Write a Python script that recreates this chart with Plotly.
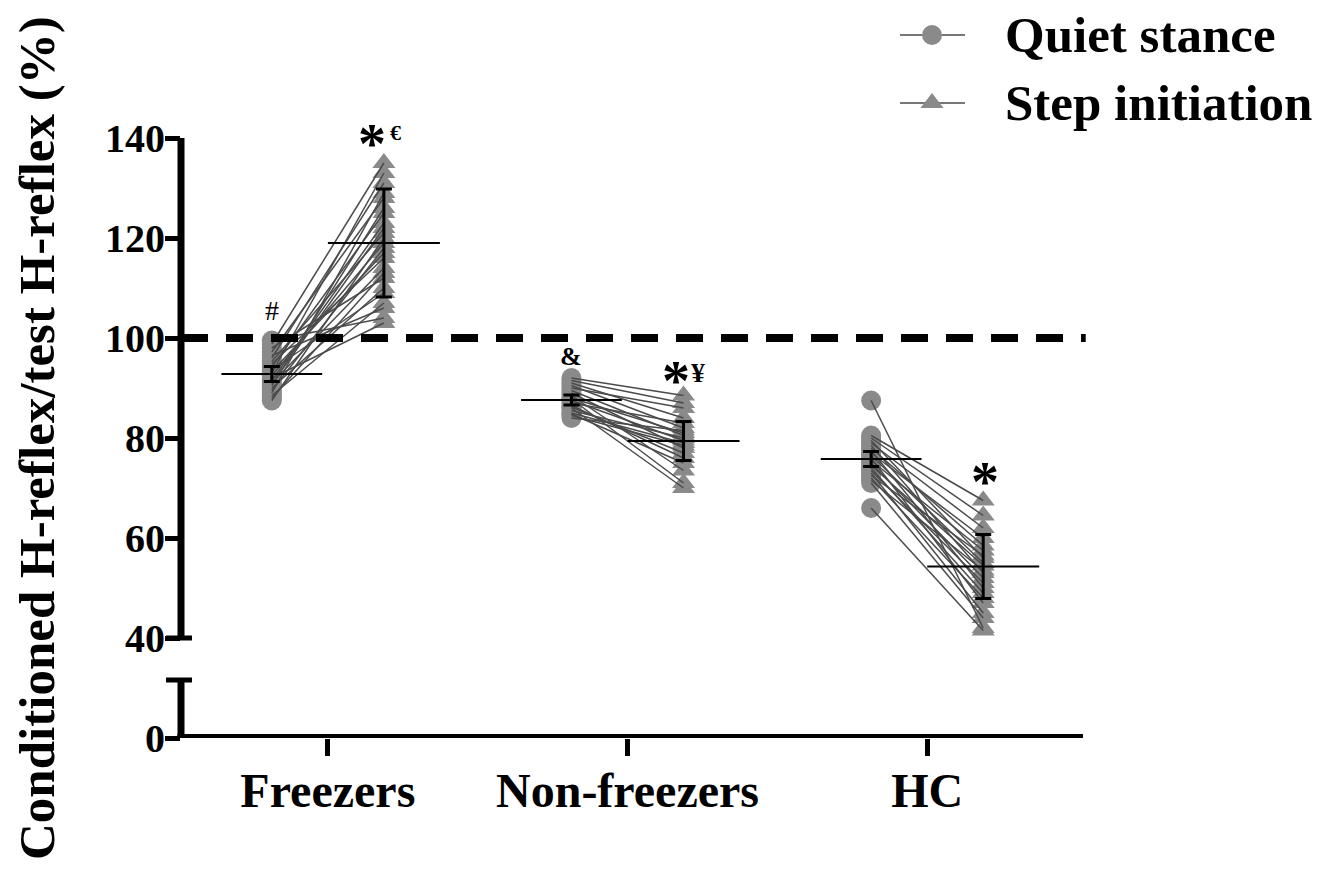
import plotly.graph_objects as go

# ---------------- data ----------------
groups = ["Freezers", "Non-freezers", "HC"]
series_names = ["Quiet stance", "Step initiation"]

freezers_quiet = [99.5, 98.8, 98.0, 97.2, 96.5, 96.0, 95.3, 94.8, 94.2, 93.6, 93.0, 92.5,
                  92.0, 91.5, 91.0, 90.5, 90.0, 89.5, 89.0, 88.5, 88.0, 87.5, 90.8, 93.3]
freezers_step = [104, 135, 112, 128, 106, 131, 121, 116, 125, 109, 133, 119,
                 103, 123, 114, 126, 110, 118, 129, 107, 113, 120, 122, 117]

nonfreezers_quiet = [92.0, 91.5, 91.0, 90.5, 90.0, 89.5, 89.0, 88.5, 88.0, 87.8,
                     87.5, 87.0, 86.5, 86.2, 86.0, 85.5, 85.0, 84.8, 84.5, 84.0]
nonfreezers_step = [88.5, 87.0, 84.0, 82.0, 86.0, 80.5, 78.0, 73.5, 81.0, 71.0,
                    79.5, 83.0, 76.0, 77.0, 70.0, 80.0, 79.0, 75.0, 78.5, 81.5]

hc_quiet = [87.5, 80.5, 80.0, 79.5, 79.0, 78.5, 78.0, 77.5, 77.0, 76.5, 76.0,
            75.5, 75.0, 74.5, 74.0, 73.5, 73.0, 72.5, 72.0, 71.5, 71.0, 66.0]
hc_step = [42.0, 67.5, 64.5, 56.0, 62.0, 53.0, 58.5, 50.0, 60.0, 55.0, 47.0,
           57.5, 52.0, 54.5, 49.0, 51.0, 45.0, 56.5, 48.0, 53.5, 44.0, 41.5]

quiet_mean = [92.8, 87.6, 75.8]
quiet_err = [1.5, 1.0, 1.5]
step_mean = [119.0, 79.4, 54.3]
step_err = [10.8, 3.9, 6.4]

y_tickvals = [20, 40, 60, 80, 100, 120, 140]
y_ticktext = ["0", "40", "60", "80", "100", "120", "140"]

# ---------------- styling / geometry ----------------
FONT = "Liberation Serif"
GREY = "rgb(138,138,138)"
LINEGREY = "rgb(75,75,75)"
OFF = 0.187
W, H = 1316, 864                      # page body has an 8 px margin
ML, MR, MT, MB = 173, 241, 130, 134
PW, PH = W - ML - MR, H - MT - MB


def px2paper_x(fx):
    return (fx - ML) / PW


def px2paper_y(fy):
    return (H - MB - fy) / PH


quiet_sets = [freezers_quiet, nonfreezers_quiet, hc_quiet]
step_sets = [freezers_step, nonfreezers_step, hc_step]

qx, qy, sx, sy, lx, ly = [], [], [], [], [], []
for gi, (qs, ss) in enumerate(zip(quiet_sets, step_sets)):
    for a, b in zip(qs, ss):
        qx.append(gi - OFF); qy.append(a)
        sx.append(gi + OFF); sy.append(b)
        lx += [gi - OFF, gi + OFF, None]
        ly += [a, b, None]

fig = go.Figure()

fig.add_trace(go.Scatter(x=qx, y=qy, mode="markers", name=series_names[0], showlegend=False,
                         cliponaxis=False, marker=dict(symbol="circle", size=20, color=GREY)))
fig.add_trace(go.Scatter(x=sx, y=sy, mode="markers", name=series_names[1], showlegend=False,
                         cliponaxis=False, marker=dict(symbol="triangle-up", size=20, color=GREY)))
fig.add_trace(go.Scatter(x=lx, y=ly, mode="lines", showlegend=False, cliponaxis=False,
                         line=dict(color=LINEGREY, width=1.5)))

# mean lines with error bars
xs_q = [i - OFF for i in range(3)]
xs_s = [i + OFF for i in range(3)]
fig.add_trace(go.Scatter(x=xs_q, y=quiet_mean, mode="markers", showlegend=False, cliponaxis=False,
                         marker=dict(symbol="line-ew", size=72, line=dict(color="black", width=2.2)),
                         error_y=dict(type="data", array=quiet_err, color="black", thickness=3, width=8)))
fig.add_trace(go.Scatter(x=xs_s, y=step_mean, mode="markers", showlegend=False, cliponaxis=False,
                         marker=dict(symbol="line-ew", size=80, line=dict(color="black", width=2.2)),
                         error_y=dict(type="data", array=step_err, color="black", thickness=3, width=8)))

shapes = [
    # y axis (broken)
    dict(type="line", xref="paper", x0=0, x1=0, yref="y", y0=40, y1=140,
         line=dict(color="black", width=7)),
    dict(type="line", xref="paper", x0=0, x1=0, yref="y", y0=20, y1=31.6,
         line=dict(color="black", width=7)),
    # x axis
    dict(type="line", xref="paper", x0=-0.004, x1=1, yref="y", y0=20, y1=20,
         line=dict(color="black", width=8)),
    # break caps
    dict(type="line", xref="paper", xsizemode="pixel", xanchor=0, x0=-15, x1=11,
         yref="y", y0=40, y1=40, line=dict(color="black", width=5)),
    dict(type="line", xref="paper", xsizemode="pixel", xanchor=0, x0=-15, x1=11,
         yref="y", y0=31.6, y1=31.6, line=dict(color="black", width=5)),
    # reference line at 100 %
    dict(type="line", xref="paper", x0=0.0, x1=1.003, yref="y", y0=100, y1=100,
         line=dict(color="black", width=8, dash="27px,18px")),
]

# custom legend (symbols as shapes, labels as text)
leg_anchor_x = px2paper_x(924)
leg_rows_y = [px2paper_y(27), px2paper_y(95)]
for ri, yrow in enumerate(leg_rows_y):
    shapes.append(dict(type="line", xref="paper", xsizemode="pixel", xanchor=leg_anchor_x,
                       x0=-32, x1=33, yref="paper", y0=yrow, y1=yrow,
                       line=dict(color=LINEGREY, width=1.5)))
    if ri == 0:
        shapes.append(dict(type="circle", xref="paper", yref="paper",
                           xsizemode="pixel", ysizemode="pixel",
                           xanchor=leg_anchor_x, yanchor=yrow, x0=-10, x1=10, y0=-10, y1=10,
                           fillcolor=GREY, line=dict(width=0)))
    else:
        shapes.append(dict(type="path", xref="paper", yref="paper",
                           xsizemode="pixel", ysizemode="pixel",
                           xanchor=leg_anchor_x, yanchor=yrow,
                           path="M-11.55,-5 L11.55,-5 L0,10 Z",
                           fillcolor=GREY, line=dict(width=0)))


def sym(text, x, y, size, bold=True, yshift=0, xshift=0):
    return dict(text=text, x=x, y=y, xref="x", yref="y", showarrow=False,
                font=dict(family=FONT, size=size, color="black", weight="bold" if bold else "normal"),
                yshift=yshift, xshift=xshift)


annotations = [
    sym("#", 0 - OFF, 105.6, 28, bold=False),
    sym("*", 0 + OFF, 139.5, 56, xshift=-12, yshift=-3),
    sym("€", 0 + OFF, 139.5, 22, xshift=12, yshift=8),
    sym("&", 1 - OFF, 96.4, 26),
    sym("*", 1 + OFF, 93.2, 56, xshift=-8, yshift=-9),
    sym("¥", 1 + OFF, 93.2, 28, xshift=14),
    sym("*", 2 + OFF, 72.6, 56, xshift=2, yshift=-7),
    dict(text="Conditioned H-reflex/test H-reflex (%)", textangle=-90,
         xref="paper", yref="paper", x=px2paper_x(29), y=px2paper_y(430),
         xanchor="center", yanchor="middle", showarrow=False, borderpad=0,
         font=dict(family=FONT, size=51, color="black", weight="bold")),
]
for name, yrow in zip(series_names, leg_rows_y):
    annotations.append(dict(text=name, xref="paper", yref="paper", x=px2paper_x(995), y=yrow,
                            xanchor="left", yanchor="middle", showarrow=False,
                            font=dict(family=FONT, size=51, color="black", weight="bold")))

fig.update_layout(
    width=W, height=H,
    margin=dict(l=ML, r=MR, t=MT, b=MB, autoexpand=False),
    paper_bgcolor="white", plot_bgcolor="white",
    shapes=shapes, annotations=annotations,
    showlegend=False,
    xaxis=dict(range=[-0.49, 2.52], tickvals=[0, 1, 2], ticktext=groups,
               ticks="outside", ticklen=17, tickwidth=5, tickcolor="black",
               showline=False, showgrid=False, zeroline=False, automargin=False,
               ticklabelstandoff=-7,
               tickfont=dict(family=FONT, size=48, color="black", weight="bold")),
    yaxis=dict(range=[20, 140], tickvals=y_tickvals, ticktext=y_ticktext,
               ticks="outside", ticklen=15, tickwidth=5, tickcolor="black",
               showline=False, showgrid=False, zeroline=False, automargin=False,
               ticklabelstandoff=-8,
               tickfont=dict(family=FONT, size=40, color="black", weight="bold")),
)

fig.write_html("out.html")
